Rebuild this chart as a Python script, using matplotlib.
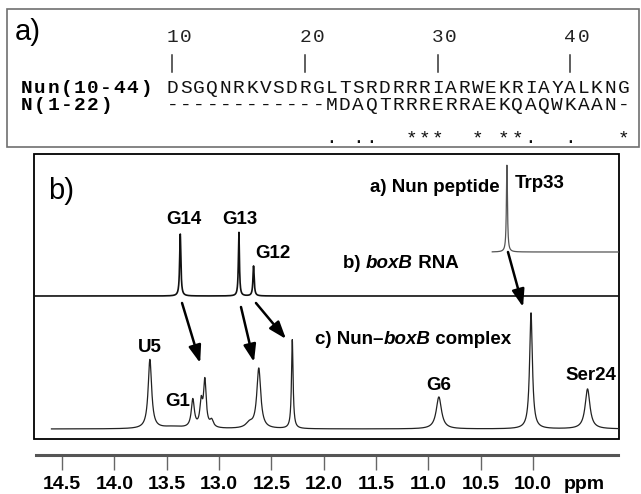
import matplotlib
matplotlib.use("Agg")
import matplotlib.pyplot as plt
from matplotlib.patches import Rectangle
import numpy as np

# ---- data ------------------------------------------------------------------
residue_numbers = [10, 20, 30, 40]
nun_label = "Nun(10-44)"
n_label = "N(1-22)"
nun_seq = "DSGQNRKVSDRGLTSRDRRRIARWEKRIAYALKNG"
n_seq = "------------MDAQTRRRERRAEKQAQWKAAN-"
match_marks = "            . ..  ***  * **.  .   *"

ppm_ticks = [14.5, 14.0, 13.5, 13.0, 12.5, 12.0, 11.5, 11.0, 10.5, 10.0]

# peak lists: position (ppm), height (px), line width (ppm)
pep_pos = [10.25]
pep_h = [87]
pep_w = [0.012]

rna_pos = [13.37, 12.81, 12.67]
rna_h = [62, 64, 30]
rna_w = [0.014, 0.012, 0.014]

cpx_pos = [13.66, 13.44, 13.25, 13.17, 13.135, 13.07, 12.71, 12.62, 12.30, 10.90, 10.02, 9.48]
cpx_h = [69, 2, 28, 24, 46, 7, 5, 60, 89, 32, 116, 40]
cpx_w = [0.04, 0.25, 0.035, 0.03, 0.03, 0.04, 0.08, 0.045, 0.018, 0.06, 0.032, 0.055]

W, H = 641, 494
PX13, PXPPM = 219.0, 104.7      # pixel column of 13.0 ppm, pixels per ppm


def ppm_at(px):
    return 13.0 - (px - PX13) / PXPPM


def spectrum(x, pos, h, w):
    y = np.zeros_like(x)
    for p, a, g in zip(pos, h, w):
        y += a / (1 + ((x - p) / (g / 2)) ** 2)
    return y


fig = plt.figure(figsize=(W / 100, H / 100), dpi=100)
ov = fig.add_axes([0, 0, 1, 1])
ov.set_xlim(0, W)
ov.set_ylim(H, 0)
ov.axis("off")

# ---- panel a: sequence alignment ------------------------------------------
MONO = "Liberation Mono"
SANS = "Liberation Sans"
fs_mono = 14
cw = 13.26          # column pitch in pixels
x0 = 20
xs = x0 + 11 * cw


def mono_row(x, y, s, **kw):
    for i, ch in enumerate(s):
        if ch != " ":
            ov.text(x + (i + 0.5) * cw, y, ch, family=MONO, fontsize=fs_mono,
                    ha="center", va="baseline", **kw)


ov.add_patch(Rectangle((7, 9), 632, 138, fill=False, ec="#707070", lw=1.2))
ov.text(15, 40, "a)", family=SANS, fontsize=21, va="baseline", ha="left")

for n in residue_numbers:
    col = n - residue_numbers[0]
    mono_row(xs + col * cw, 42, str(n), color="#222222")
    ov.plot([xs + (col + 0.5) * cw] * 2, [55, 72], color="#333333", lw=1.1)

mono_row(x0, 93, nun_label, fontweight="bold")
mono_row(xs, 93, nun_seq, color="#111111")
mono_row(x0, 110, n_label, fontweight="bold")
mono_row(xs, 110, n_seq, color="#111111")
mono_row(xs, 143, match_marks, color="#111111")

# ---- panel b: 1D imino spectra --------------------------------------------
ov.add_patch(Rectangle((34, 154), 585, 285, fill=False, ec="black", lw=1.3))
ov.text(48, 199, "b)", family=SANS, fontsize=21, va="baseline", ha="left")

ax = fig.add_axes([34 / W, (H - 439) / H, 585 / W, 285 / H])
ax.set_xlim(ppm_at(34), ppm_at(619))
ax.set_ylim(439, 154)
ax.axis("off")
ax.patch.set_alpha(0)

x_top = np.linspace(10.39, ppm_at(619), 1500)
ax.plot(x_top, 252 - spectrum(x_top, pep_pos, pep_h, pep_w), color="#555555", lw=0.9)

x_mid = np.linspace(ppm_at(34), ppm_at(619), 4000)
ax.plot(x_mid, 296 - spectrum(x_mid, rna_pos, rna_h, rna_w), color="#111111", lw=1.2)

x_bot = np.linspace(14.60, ppm_at(619), 4000)
ax.plot(x_bot, 429 - spectrum(x_bot, cpx_pos, cpx_h, cpx_w), color="#222222", lw=0.9)

lab = dict(family=SANS, fontsize=13.5, fontweight="bold")
ax.text(13.34, 219, "G14", ha="center", va="center", **lab)
ax.text(12.80, 219, "G13", ha="center", va="center", **lab)
ax.text(12.49, 253, "G12", ha="center", va="center", **lab)
ax.text(10.316, 187, "a) Nun peptide", ha="right", va="center", **lab)
ax.text(9.94, 183, "Trp33", ha="center", va="center", **lab)
ax.text(13.66, 347, "U5", ha="center", va="center", **lab)
ax.text(13.39, 402, "G1", ha="center", va="center", **lab)
ax.text(10.90, 385, "G6", ha="center", va="center", **lab)
ax.text(9.447, 375, "Ser24", ha="center", va="center", **lab)

t = ax.text(11.816, 263, "b) ", ha="left", va="center", **lab)
t = ax.annotate("boxB", xy=(1, 0), xycoords=t, ha="left", va="bottom", style="italic", **lab)
ax.annotate(" RNA", xy=(1, 0), xycoords=t, ha="left", va="bottom", **lab)

t = ax.text(12.083, 340, "c) Nun\u2013", ha="left", va="center", **lab)
t = ax.annotate("boxB", xy=(1, 0), xycoords=t, ha="left", va="bottom", style="italic", **lab)
ax.annotate(" complex", xy=(1, 0), xycoords=t, ha="left", va="bottom", **lab)

arrows = [((13.353, 303), (13.18, 363)),
          ((12.79, 307), (12.666, 362)),
          ((12.647, 303), (12.36, 339)),
          ((10.24, 252), (10.096, 307))]
for start, end in arrows:
    ax.annotate("", xy=end, xytext=start,
                arrowprops=dict(arrowstyle="-|>,head_length=0.7,head_width=0.25",
                                color="black", lw=1.8,
                                mutation_scale=15, shrinkA=0, shrinkB=0))

# ---- ppm axis --------------------------------------------------------------
axx = fig.add_axes([36 / W, (H - 455) / H, 582 / W, 0.0001])
axx.set_xlim(ppm_at(36), ppm_at(618))
axx.set_yticks([])
for s in ("top", "left", "right"):
    axx.spines[s].set_visible(False)
axx.spines["bottom"].set_color("#555555")
axx.spines["bottom"].set_linewidth(2.2)
axx.set_xticks(ppm_ticks)
axx.set_xticklabels([f"{v:.1f}" for v in ppm_ticks], family=SANS, fontsize=14,
                    fontweight="bold")
axx.tick_params(axis="x", direction="out", length=10.8, width=1.0, color="#666666", pad=4)
axx.patch.set_alpha(0)
fig.text(584 / W, 1 - 484 / H, "ppm", family=SANS, fontsize=14, fontweight="bold",
         ha="center", va="center")

fig.savefig("out.png", dpi=100, facecolor="white")
